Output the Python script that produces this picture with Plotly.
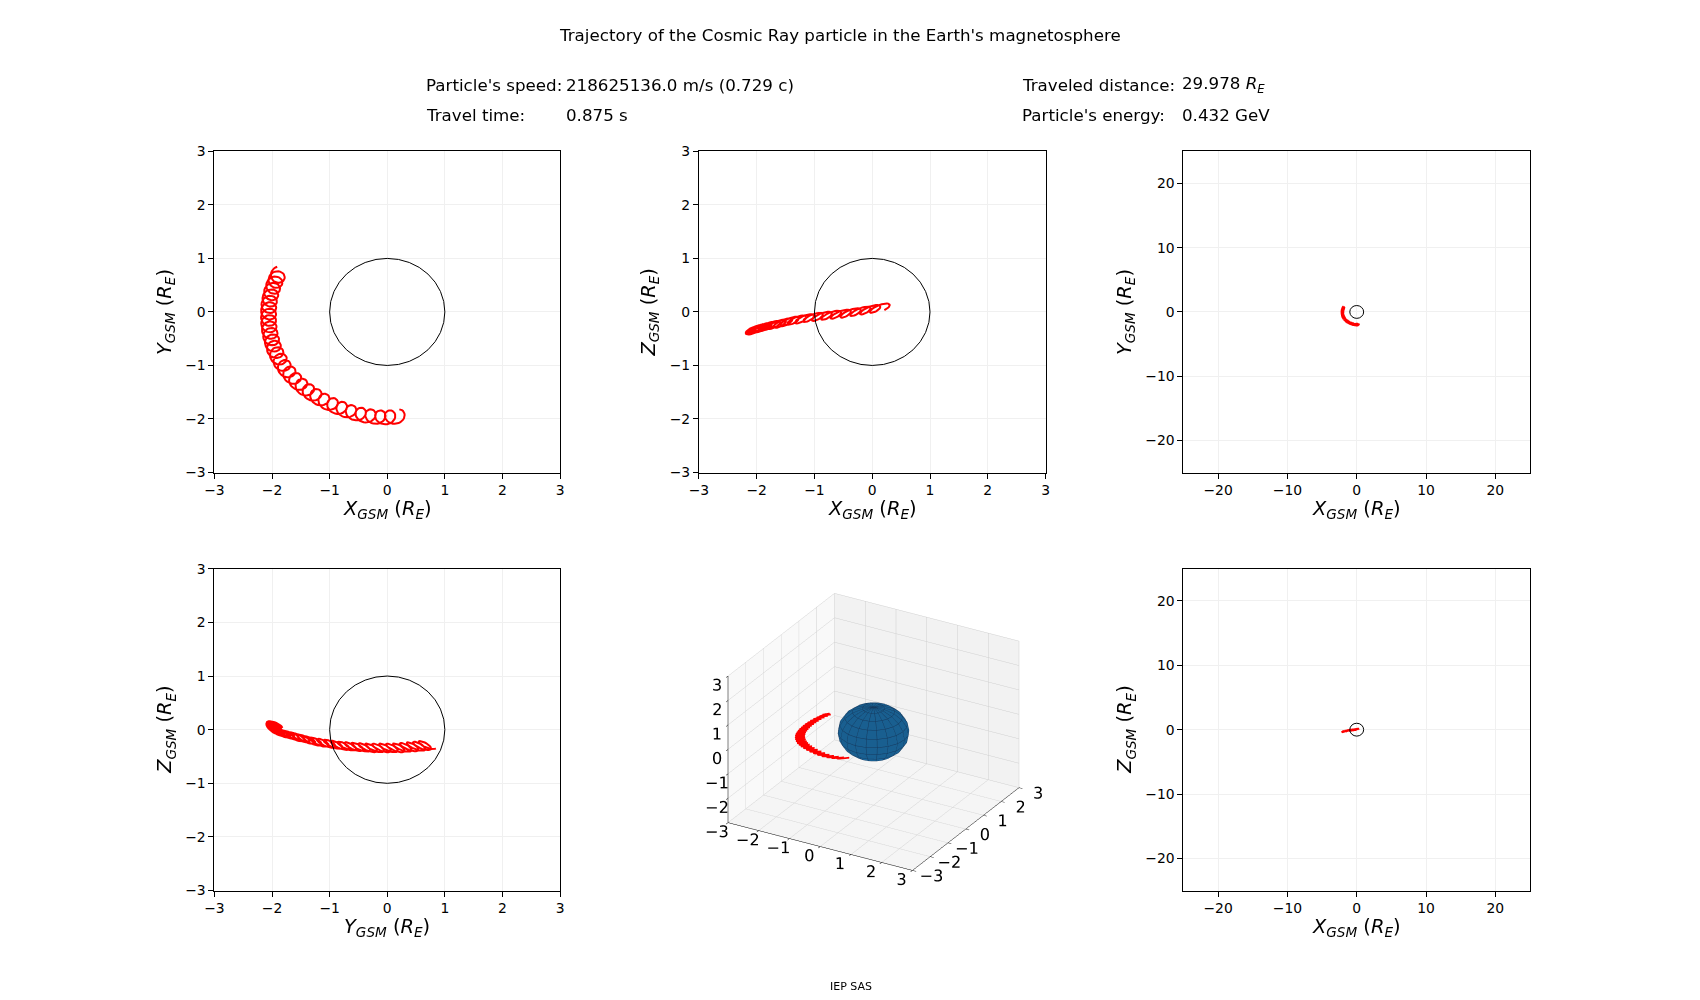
import math
import plotly.graph_objects as go

# ---------------- data ----------------
# guiding-centre positions of the gyrating particle, one per gyration loop (R_E)
gc_x = [0.21, 0.05, -0.12, -0.29, -0.46, -0.63, -0.79, -0.95, -1.10, -1.24,
        -1.37, -1.49, -1.60, -1.70, -1.79, -1.86, -1.92, -1.97, -2.00, -2.03,
        -2.05, -2.06, -2.06, -2.06, -2.05, -2.03, -2.00, -1.96, -1.92, -1.88]
gc_y = [-1.95, -1.97, -1.97, -1.95, -1.92, -1.87, -1.81, -1.74, -1.66, -1.57,
        -1.48, -1.38, -1.27, -1.15, -1.03, -0.91, -0.79, -0.67, -0.55, -0.43,
        -0.31, -0.19, -0.07, 0.05, 0.17, 0.29, 0.41, 0.53, 0.63, 0.72]
gc_z = [0.09, 0.06, 0.03, 0.00, -0.03, -0.05, -0.07, -0.09, -0.11, -0.14,
        -0.16, -0.19, -0.22, -0.24, -0.26, -0.28, -0.30, -0.31, -0.32, -0.33,
        -0.34, -0.34, -0.34, -0.34, -0.34, -0.33, -0.32, -0.31, -0.30, -0.28]
gyro_radius = 0.13      # R_E
gyro_z_amp = 0.08       # R_E, tilt of the gyration plane

title_text = "Trajectory of the Cosmic Ray particle in the Earth's magnetosphere"
speed_label, speed_value = "Particle's speed:", "218625136.0 m/s (0.729 c)"
time_label, time_value = "Travel time:", "0.875 s"
dist_label, dist_value = "Traveled distance:", "29.978 <i>R</i><sub><i>E</i></sub>"
energy_label, energy_value = "Particle's energy:", "0.432 GeV"
footer_text = "IEP SAS"

near_ticks = [-3, -2, -1, 0, 1, 2, 3]
far_ticks = [-20, -10, 0, 10, 20]
near_range = [-3, 3]
far_range = [-25, 25]
earth_radius = 1.0

# ---------------- page geometry ----------------
W, H = 1700, 1000
# calibration of the photographed page (content appears slightly shifted/scaled)
SX, SY, CX, CY = 0.9928, 0.9845, 16.8, 15.5

def px(X):
    return (X / SX - CX) / W

def py(Y):
    return 1 - (Y / SY - CY) / H

# ---------------- build trajectory drawing ----------------
STEPS = 28
tx, ty, tz = [], [], []
for i in range(len(gc_x) - 1):
    for k in range(STEPS):
        t = k / STEPS
        th = -2 * math.pi * t + math.pi / 2
        cx = gc_x[i] + t * (gc_x[i + 1] - gc_x[i])
        cy = gc_y[i] + t * (gc_y[i + 1] - gc_y[i])
        cz = gc_z[i] + t * (gc_z[i + 1] - gc_z[i])
        tx.append(cx + gyro_radius * math.cos(th))
        ty.append(cy + gyro_radius * math.sin(th))
        tz.append(cz + gyro_z_amp * math.cos(th + 0.8))

FONT = "DejaVu Sans"
RED = "#ff0000"

fig = go.Figure()

col_px = [(213.3, 559.3), (698.3, 1045.3), (1183.3, 1530.3)]
row_px = [(150.7, 472.0), (568.3, 890.3)]
col_dom = [[px(a), px(b)] for a, b in col_px]
row_dom = [[py(b), py(a)] for a, b in row_px]

panels = [
    ("", 0, 0, tx, ty, near_range, near_ticks, "X", "Y"),
    ("2", 1, 0, tx, tz, near_range, near_ticks, "X", "Z"),
    ("3", 2, 0, tx, ty, far_range, far_ticks, "X", "Y"),
    ("4", 0, 1, ty, tz, near_range, near_ticks, "Y", "Z"),
    ("5", 2, 1, tx, tz, far_range, far_ticks, "X", "Z"),
]

def lab(letter):
    return f"<i>{letter}</i><sub><i>GSM</i></sub> (<i>R</i><sub><i>E</i></sub>)"

annotations = []
shapes = []
ylab_x = [165, 649, 1126]
xlab_y = [509, 927]

for suf, c, r, hd, vd, rng, ticks, xl, yl in panels:
    xa = "x" + suf
    ya = "y" + suf
    fig.add_trace(go.Scatter(x=hd, y=vd, mode="lines", line=dict(color=RED, width=2),
                             xaxis=xa, yaxis=ya, showlegend=False, hoverinfo="skip"))
    axcommon = dict(range=rng, tickmode="array", tickvals=ticks, showline=True, mirror=True,
                    linecolor="black", linewidth=1, ticks="outside", ticklen=5, tickwidth=1,
                    tickcolor="black", showgrid=True, gridcolor="#f0f0f0", gridwidth=1,
                    zeroline=False, tickfont=dict(family=FONT, size=13.9, color="black"),
                    fixedrange=True)
    fig.layout["xaxis" + suf] = dict(domain=col_dom[c], anchor=ya, **axcommon)
    fig.layout["yaxis" + suf] = dict(domain=row_dom[r], anchor=xa, **axcommon)
    shapes.append(dict(type="circle", xref=xa, yref=ya, x0=-earth_radius, x1=earth_radius,
                       y0=-earth_radius, y1=earth_radius, line=dict(color="black", width=1),
                       layer="above"))
    annotations.append(dict(text=lab(xl), x=sum(col_dom[c]) / 2, y=py(xlab_y[r]),
                            xref="paper", yref="paper", showarrow=False, xanchor="center",
                            yanchor="middle", font=dict(family=FONT, size=19.4, color="black")))
    annotations.append(dict(text=lab(yl), x=px(ylab_x[c]), y=sum(row_dom[r]) / 2,
                            xref="paper", yref="paper", showarrow=False, xanchor="center",
                            yanchor="middle", textangle=-90,
                            font=dict(family=FONT, size=19.4, color="black")))

# ---------------- 3D panel ----------------
NU, NV = 21, 11
us = [2 * math.pi * i / (NU - 1) for i in range(NU)]
vs = [math.pi * j / (NV - 1) for j in range(NV)]
sx = [[earth_radius * math.cos(u) * math.sin(v) for u in us] for v in vs]
sy = [[earth_radius * math.sin(u) * math.sin(v) for u in us] for v in vs]
sz = [[earth_radius * math.cos(v) for u in us] for v in vs]
fig.add_trace(go.Surface(x=sx, y=sy, z=sz, colorscale=[[0, "#1f77b4"], [1, "#1f77b4"]],
                         showscale=False, hoverinfo="skip", scene="scene",
                         lighting=dict(ambient=0.8, diffuse=0.4, specular=0.05,
                                       roughness=0.9, fresnel=0.05),
                         lightposition=dict(x=-10000, y=-10000, z=20000)))
wx, wy, wz = [], [], []
for j in range(NV):
    wx += [v * 1.004 for v in sx[j]] + [None]
    wy += [v * 1.004 for v in sy[j]] + [None]
    wz += [v * 1.004 for v in sz[j]] + [None]
for i in range(NU):
    wx += [sx[j][i] * 1.004 for j in range(NV)] + [None]
    wy += [sy[j][i] * 1.004 for j in range(NV)] + [None]
    wz += [sz[j][i] * 1.004 for j in range(NV)] + [None]
fig.add_trace(go.Scatter3d(x=wx, y=wy, z=wz, mode="lines", line=dict(color="#14395e", width=1),
                           hoverinfo="skip", showlegend=False, scene="scene"))
fig.add_trace(go.Scatter3d(x=tx, y=ty, z=tz, mode="lines", line=dict(color=RED, width=3.5),
                           hoverinfo="skip", showlegend=False, scene="scene"))

def ax3(bg):
    return dict(range=near_range, tickvals=near_ticks, title=dict(text=""), showbackground=True,
                backgroundcolor=bg, gridcolor="#d0d0d0", gridwidth=1, showline=True,
                linecolor="black", linewidth=1, ticks="outside", ticklen=4, tickcolor="black",
                zeroline=False, showspikes=False, tickangle=0,
                tickfont=dict(family=FONT, size=13.9, color="black"))

E = 1.62
A = 1.235
ELEV = math.radians(25.7)
AZIM = math.radians(-60)
fig.layout.scene = dict(
    domain=dict(x=[px(690), px(1055)], y=[py(909), py(564)]),
    xaxis=ax3("#f9f9f9"), yaxis=ax3("#f2f2f2"), zaxis=ax3("#f5f5f5"),
    aspectmode="manual", aspectratio=dict(x=A, y=A, z=0.77 * A),
    camera=dict(eye=dict(x=math.cos(ELEV) * math.cos(AZIM) * E,
                         y=math.cos(ELEV) * math.sin(AZIM) * E,
                         z=math.sin(ELEV) * E),
                center=dict(x=0, y=0, z=-0.03),
                projection=dict(type="orthographic")),
)

# ---------------- texts ----------------
TXT_PAD = 3  # annotation box padding

def txt(s, X, Y, size=16.7, anchor="left"):
    xx = X - TXT_PAD if anchor == "left" else X
    annotations.append(dict(text=s, x=px(xx), y=py(Y), xref="paper", yref="paper",
                            showarrow=False, xanchor=anchor, yanchor="middle",
                            font=dict(family=FONT, size=size, color="black")))

txt(title_text, 840, 34, anchor="center")
txt(speed_label, 426, 84)
txt(speed_value, 566, 84)
txt(time_label, 426, 114)
txt(time_value, 566, 114)
txt(dist_label, 1023, 84)
txt(dist_value, 1183, 84)
txt(energy_label, 1023, 114)
txt(energy_value, 1183, 114)
txt(footer_text, 851, 986, size=11, anchor="center")

fig.update_layout(width=W, height=H, margin=dict(l=0, r=0, t=0, b=0),
                  paper_bgcolor="white", plot_bgcolor="white",
                  annotations=annotations, shapes=shapes, showlegend=False,
                  font=dict(family=FONT))

fig.write_html("out.html", config={"displayModeBar": False})
